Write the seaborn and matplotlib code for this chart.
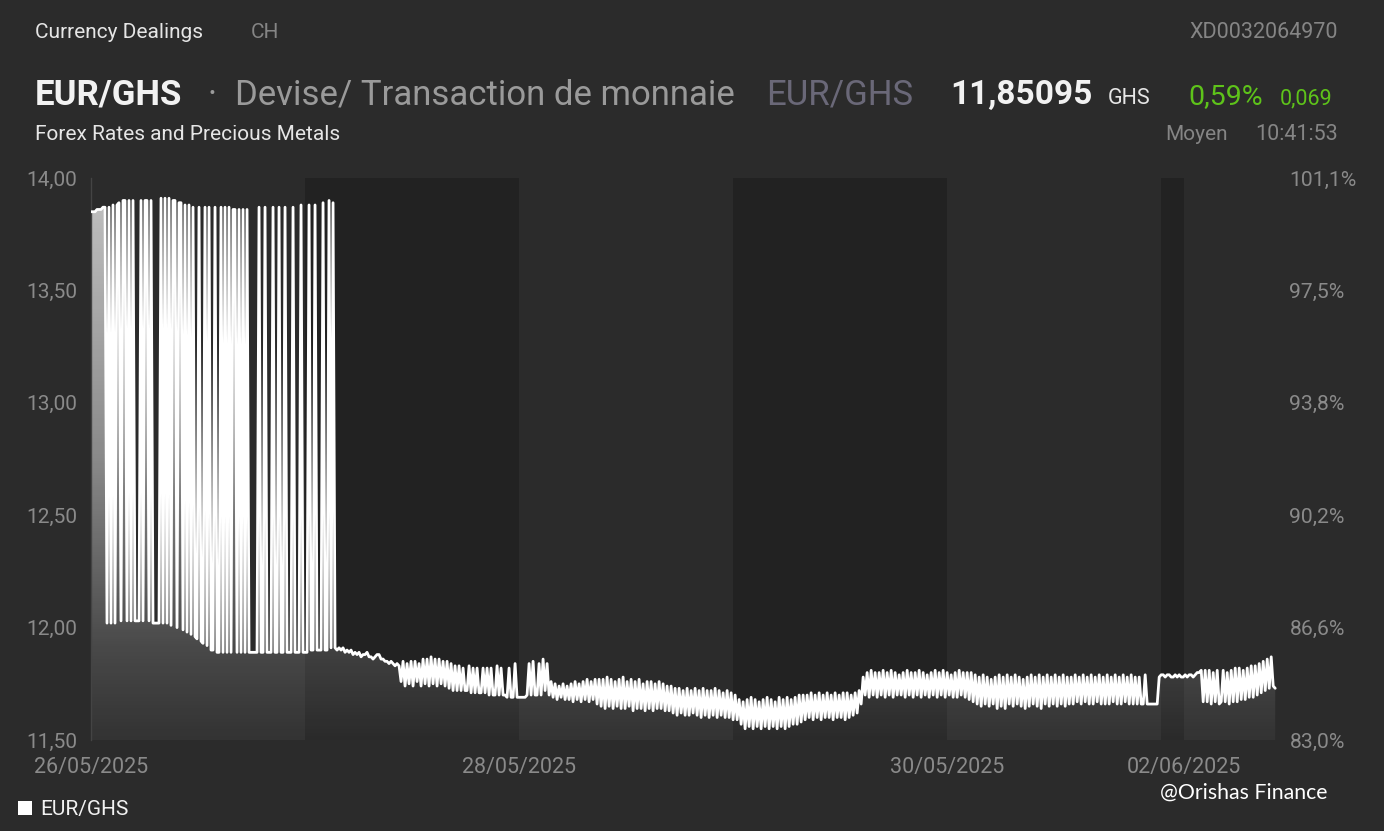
import numpy as np
import pandas as pd
import matplotlib
matplotlib.use("Agg")
from matplotlib import pyplot as plt
import seaborn as sns

# ---------------------------------------------------------------------------
# EUR/GHS intraday quotes at an even pace of chart time
# (weekend squeezed into a thin band). The feed flips between two levels a lot.
start_spikes = [13.85, 13.85, 13.85, 13.86, 13.86, 13.86, 13.87, 13.87,
                12.02, 13.87, 12.02, 13.88, 12.02, 13.88, 13.89, 12.03, 13.90, 13.90,
                12.03, 13.90, 12.03, 13.90,
                12.03, 12.03, 12.03,
                13.90, 12.03, 13.90, 13.90, 12.03, 13.90,
                12.02, 12.02, 12.02, 12.02,
                13.91, 12.02, 13.91, 12.02, 13.91, 12.01,
                13.90, 13.90, 12.00, 13.89, 13.89, 11.99, 13.88, 11.98, 13.88, 11.97,
                13.87, 11.96,
                11.95, 13.87, 11.94, 11.93, 13.87, 11.92, 13.87, 11.90, 11.90, 13.87,
                11.89, 11.89, 13.87, 11.89, 13.87, 11.89, 13.87, 11.89, 13.86, 13.86,
                11.89, 13.86, 11.89, 13.86, 11.89, 13.86, 11.89, 11.89, 11.89, 11.89,
                11.89, 13.87, 11.89, 11.89, 13.87, 11.89, 11.89, 11.89, 13.87, 11.89,
                11.89, 13.87, 11.89, 11.89, 13.87, 11.89, 11.89, 11.89, 13.87, 11.89,
                11.89, 11.89, 13.88, 11.89, 11.89, 11.89, 13.88, 11.90, 11.90, 13.88,
                11.90, 11.90, 11.90, 13.89, 11.90, 11.90, 13.90, 11.91, 13.89]
slide_27_28 = [11.91, 11.90, 11.91, 11.90, 11.91, 11.89, 11.90, 11.89, 11.90, 11.88,
               11.89, 11.88, 11.89, 11.87, 11.88, 11.88, 11.89, 11.87, 11.87, 11.86,
               11.87, 11.88, 11.88, 11.86, 11.86, 11.85, 11.85, 11.84, 11.85, 11.84,
               11.83, 11.84, 11.83,
               11.76, 11.85, 11.74, 11.84, 11.75, 11.85, 11.74, 11.85, 11.76, 11.84,
               11.74, 11.86, 11.75, 11.86, 11.74, 11.87, 11.75, 11.86, 11.74, 11.86,
               11.75, 11.85, 11.74, 11.85, 11.73, 11.84,
               11.72, 11.83, 11.72, 11.83, 11.72, 11.82, 11.72, 11.72, 11.83, 11.71,
               11.82, 11.71, 11.82, 11.71, 11.71, 11.82, 11.71, 11.82, 11.70, 11.82,
               11.70, 11.70, 11.83, 11.70, 11.82, 11.70, 11.70, 11.69, 11.82, 11.69,
               11.69, 11.84, 11.69, 11.69, 11.69, 11.69, 11.69, 11.70, 11.84, 11.70,
               11.85, 11.70, 11.70, 11.84, 11.70, 11.86, 11.72, 11.84, 11.70]
drift_28_29 = [11.76, 11.69, 11.75, 11.68, 11.74, 11.69, 11.75, 11.68, 11.74, 11.68,
               11.75, 11.67, 11.76, 11.68, 11.75, 11.67, 11.76, 11.68, 11.77, 11.67,
               11.76, 11.68, 11.77, 11.66,
               11.77, 11.65, 11.77, 11.64, 11.78, 11.65, 11.77, 11.64, 11.76, 11.65,
               11.77, 11.64, 11.78, 11.64, 11.76, 11.65, 11.77, 11.63, 11.76, 11.64,
               11.77, 11.64, 11.75, 11.63, 11.76, 11.64, 11.76, 11.63, 11.75, 11.64,
               11.76, 11.64, 11.75, 11.63, 11.74, 11.63,
               11.74, 11.62, 11.73, 11.61, 11.73, 11.62, 11.72, 11.61, 11.73, 11.61,
               11.72, 11.62, 11.73, 11.61, 11.72, 11.60, 11.73, 11.61, 11.72, 11.60,
               11.72, 11.61, 11.73, 11.60, 11.72, 11.61, 11.71, 11.60, 11.72, 11.60,
               11.71, 11.59, 11.70, 11.59, 11.68, 11.57]
dip_29 = [11.67, 11.55, 11.68, 11.56, 11.69, 11.55, 11.68, 11.56, 11.67, 11.55,
          11.68, 11.56, 11.69, 11.55, 11.68, 11.56, 11.67, 11.55, 11.69, 11.56,
          11.68, 11.55, 11.69, 11.56, 11.68, 11.57, 11.69, 11.57, 11.70, 11.58,
          11.70,
          11.59, 11.70, 11.60, 11.71, 11.59, 11.70, 11.60, 11.71, 11.59, 11.70,
          11.60, 11.71, 11.60, 11.70, 11.59, 11.71, 11.60, 11.70, 11.60, 11.71,
          11.59, 11.71, 11.60, 11.70, 11.61, 11.71, 11.62, 11.72, 11.66]
rebound_29_30 = [11.78, 11.70, 11.80, 11.69, 11.81, 11.70, 11.80, 11.69, 11.80, 11.70,
                 11.81, 11.69, 11.80, 11.70, 11.81, 11.69, 11.80, 11.70, 11.79, 11.70,
                 11.80, 11.69, 11.81, 11.70, 11.80, 11.69, 11.80, 11.70, 11.81, 11.69,
                 11.80, 11.70, 11.79, 11.69, 11.80, 11.70, 11.81, 11.69, 11.80, 11.70,
                 11.81, 11.69, 11.80, 11.70, 11.79, 11.69, 11.80, 11.69, 11.81, 11.70,
                 11.80, 11.69, 11.80, 11.68,
                 11.80, 11.67, 11.79, 11.66, 11.78, 11.65, 11.79, 11.66, 11.78, 11.65,
                 11.77, 11.66, 11.78, 11.64, 11.79, 11.65, 11.78, 11.64, 11.79, 11.66,
                 11.78, 11.65, 11.79, 11.66, 11.78, 11.65, 11.77, 11.64, 11.78, 11.65,
                 11.79, 11.66, 11.78, 11.65, 11.79, 11.64, 11.78, 11.66, 11.79, 11.65,
                 11.78, 11.66, 11.79, 11.65, 11.78, 11.66, 11.79, 11.65, 11.78, 11.66,
                 11.78, 11.66, 11.79, 11.67, 11.78, 11.66, 11.79, 11.67, 11.78, 11.66,
                 11.79, 11.66, 11.78, 11.67, 11.79, 11.66, 11.78, 11.66, 11.79, 11.66,
                 11.78, 11.67, 11.79, 11.66, 11.78, 11.66, 11.79, 11.67, 11.78, 11.66,
                 11.79, 11.66, 11.78, 11.66, 11.78, 11.66, 11.66, 11.79, 11.66, 11.66,
                 11.66, 11.66, 11.66, 11.66]
weekend_monday = [11.78, 11.79, 11.79, 11.78, 11.79, 11.79, 11.78, 11.78, 11.79, 11.78,
                  11.79, 11.78, 11.78, 11.79, 11.78, 11.79, 11.79, 11.78, 11.79, 11.80,
                  11.80, 11.81,
                  11.67, 11.81, 11.67, 11.81, 11.66, 11.80, 11.67, 11.81, 11.66, 11.67,
                  11.81, 11.67, 11.80, 11.66, 11.81, 11.67, 11.82, 11.67, 11.82, 11.68,
                  11.81, 11.68, 11.82, 11.69, 11.83, 11.69, 11.83, 11.70, 11.84, 11.71,
                  11.85, 11.72, 11.86, 11.73, 11.87, 11.74, 11.73]

rate = start_spikes + slide_27_28 + drift_28_29 + dip_29 + rebound_29_30 + weekend_monday
last_h = 132.8                 # 02/06 10:41 on the squeezed time axis
df = pd.DataFrame({'hours': np.linspace(0, last_h, len(rate)), 'rate': rate})

day_edges = [0, 24, 48, 72, 96, 120, 122.6]
dark_days = [(24, 48), (72, 96), (120, 122.6)]
date_labels = ['26/05/2025', '', '28/05/2025', '', '30/05/2025', '', '02/06/2025']
y_ticks = [11.5, 12.0, 12.5, 13.0, 13.5, 14.0]
y_labels = ['11,50', '12,00', '12,50', '13,00', '13,50', '14,00']
pct_labels = ['83,0%', '86,6%', '90,2%', '93,8%', '97,5%', '101,1%']
x_end = 133.0

BG = '#2b2b2b'
BAND = '#222222'
TICK = '#8a8a8a'
GREEN = '#5ec31a'

sns.set_style('dark')
plt.rcParams['font.family'] = ['Roboto', 'DejaVu Sans']

W, H = 1384, 831
fig = plt.figure(figsize=(W / 100, H / 100), dpi=100, facecolor=BG)
ax = fig.add_axes([91 / W, 1 - 740 / H, (1277 - 91) / W, (740 - 178) / H])
ax.set_facecolor(BG)

for a, b in dark_days:
    ax.axvspan(a, b, color=BAND, lw=0, zorder=0)

# gradient fill under the curve
poly = ax.fill_between(df['hours'], df['rate'], 11.5, color='none', lw=0)
yy = np.linspace(11.5, 14.0, 300)
alpha = np.interp(yy, [11.5, 11.9, 12.75, 13.9, 14.0], [0.04, 0.14, 0.45, 0.70, 0.72])
grad = np.ones((300, 1, 4))
grad[:, 0, 3] = alpha
img = ax.imshow(grad, extent=[0, x_end, 11.5, 14.0], origin='lower', aspect='auto', zorder=1)
img.set_clip_path(poly.get_paths()[0], transform=ax.transData)

sns.lineplot(data=df, x='hours', y='rate', ax=ax, color='white', lw=2.0,
             estimator=None, sort=False, zorder=3)

ax.set_xlim(0, x_end)
ax.set_ylim(11.5, 14.0)
ax.set_xticks(day_edges)
ax.set_xticklabels(date_labels)
ax.set_yticks(y_ticks)
ax.set_yticklabels(y_labels)
ax.tick_params(axis='x', colors=TICK, labelsize=15.5, length=8, width=1, pad=4, direction='out')
ax.tick_params(axis='y', colors=TICK, labelsize=15, length=0, pad=10)
ax.set_xlabel('')
ax.set_ylabel('')
ax.grid(False)
for s in ['top', 'right', 'bottom']:
    ax.spines[s].set_visible(False)
ax.spines['left'].set_color('#444444')
ax.spines['left'].set_linewidth(1)

ax2 = ax.twinx()
ax2.set_ylim(11.5, 14.0)
ax2.set_yticks(y_ticks)
ax2.set_yticklabels(pct_labels)
ax2.tick_params(axis='y', colors=TICK, labelsize=15.2, length=0, pad=9)
ax2.grid(False)
for s in ax2.spines.values():
    s.set_visible(False)

def txt(x, y, s, **kw):
    fig.text(x / W, 1 - y / H, s, va='center', **kw)

txt(35, 33, 'Currency Dealings', color='#e6e6e6', fontsize=15)
txt(251, 33, 'CH', color='#858585', fontsize=15)
txt(1338, 33, 'XD0032064970', color='#858585', fontsize=15.5, ha='right')
txt(35, 95, 'EUR/GHS', color='#f2f2f2', fontsize=25, fontweight='bold')
txt(208, 95, '·', color='#9a9a9a', fontsize=25)
txt(235, 95, 'Devise/ Transaction de monnaie', color='#9a9a9a', fontsize=25)
txt(766, 95, 'EUR/GHS', color='#6a6878', fontsize=25)
txt(950, 95, '11,85095', color='#f2f2f2', fontsize=24, fontweight='bold')
txt(1108, 99, 'GHS', color='#e6e6e6', fontsize=15.5)
txt(1188, 97, '0,59%', color=GREEN, fontsize=20.5)
txt(1280, 99, '0,069', color=GREEN, fontsize=15.5)
txt(35, 135, 'Forex Rates and Precious Metals', color='#e6e6e6', fontsize=15)
txt(1165, 135, 'Moyen', color='#858585', fontsize=15)
txt(1338, 135, '10:41:53', color='#858585', fontsize=15.5, ha='right')

# legend
fig.patches.append(plt.Rectangle((18 / W, 1 - 815 / H), 14 / W, 14 / H, transform=fig.transFigure,
                                 facecolor='white', edgecolor='none'))
txt(40, 810, 'EUR/GHS', color='#f2f2f2', fontsize=15)
txt(1160, 793, '@Orishas Finance', color='white', fontsize=15.3, family=['Lato', 'DejaVu Sans'])

fig.savefig('out.png', dpi=100, facecolor=BG)
